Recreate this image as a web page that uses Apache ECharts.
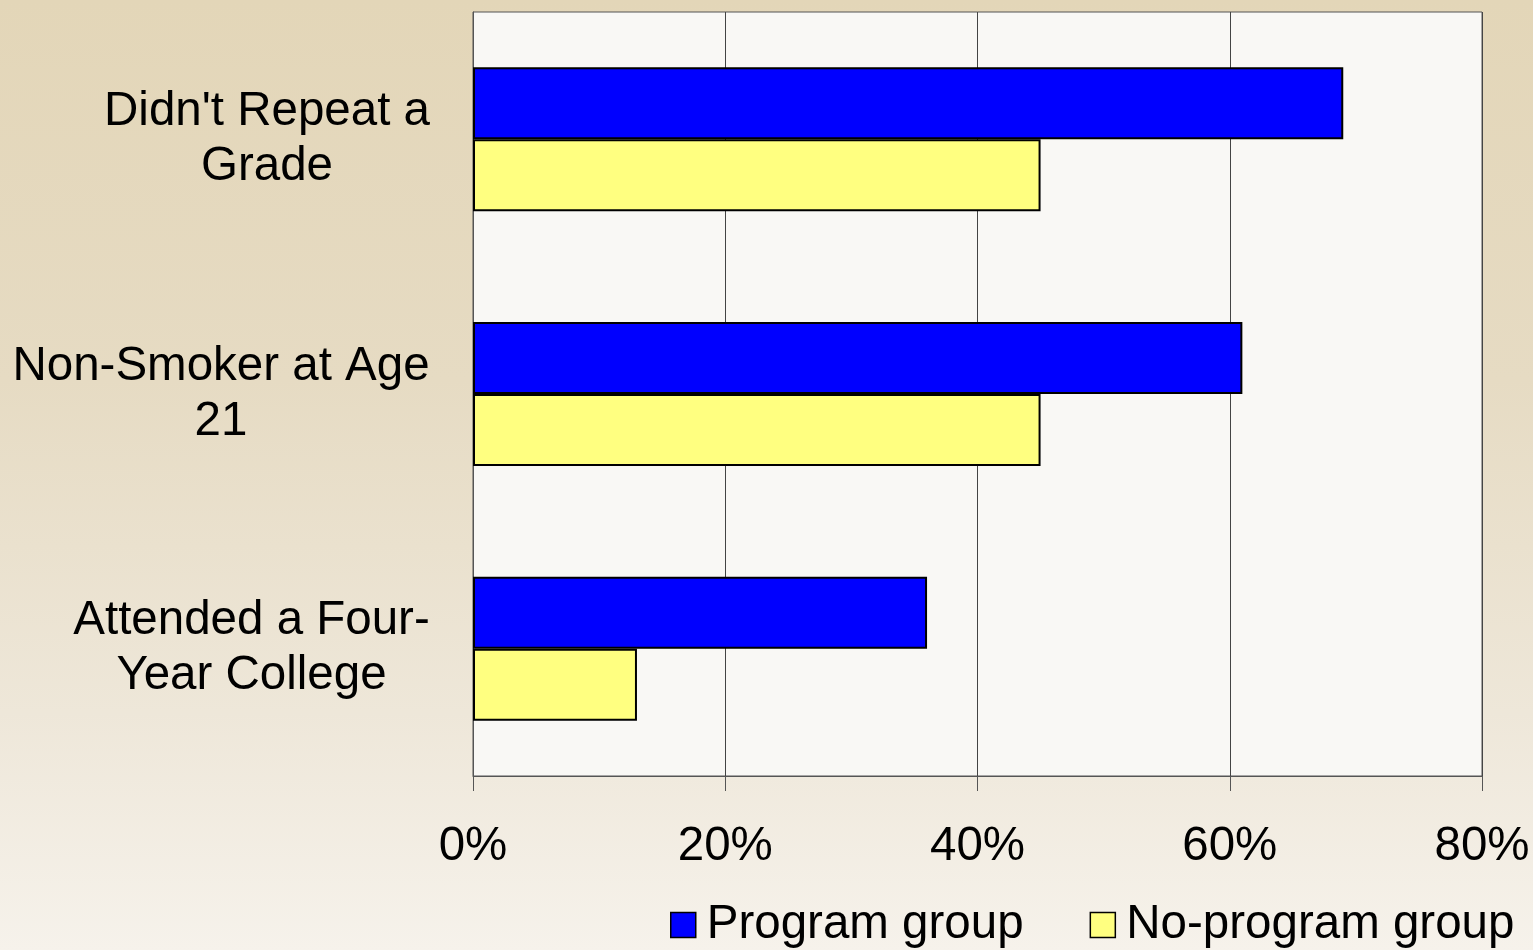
<!DOCTYPE html>
<html>
<head>
<meta charset="utf-8">
<script src="https://cdn.jsdelivr.net/npm/echarts@6/dist/echarts.min.js"></script>
<style>
  html, body { margin: 0; padding: 0; }
  #chart { width: 1533px; height: 950px; }
</style>
</head>
<body>
<div id="chart"></div>
<script>
const categories = ["Didn't Repeat a\nGrade", "Non-Smoker at Age\n21", "Attended a Four-\nYear College"];
const programGroup = [69, 61, 36];
const noProgramGroup = [45, 45, 13];
const xTicks = [0, 20, 40, 60, 80];

const FONT = "'Liberation Sans', Arial, sans-serif";
const FS = 47.5;

// each label block is right aligned to the axis, lines centred inside it
const ctx = document.createElement("canvas").getContext("2d");
ctx.font = FS + "px " + FONT;
const rich = {};
categories.forEach((c, i) => {
  const w = Math.max(...c.split("\n").map(l => ctx.measureText(l).width));
  rich["c" + i] = { width: Math.ceil(w), align: "center", fontSize: FS, fontFamily: FONT, color: "#000", lineHeight: 55 };
});

const chart = echarts.init(document.getElementById("chart"));

chart.setOption({
  animation: false,
  backgroundColor: {
    type: "linear", x: 0, y: 0, x2: 0, y2: 1,
    colorStops: [
      { offset: 0, color: "#e3d6b8" },
      { offset: 0.4, color: "#e6dbc3" },
      { offset: 0.75, color: "#eee7d9" },
      { offset: 1, color: "#f6f2eb" }
    ]
  },
  textStyle: { fontFamily: FONT },
  grid: {
    left: 473, right: 51, top: 12, bottom: 174,
    show: true, backgroundColor: "#f9f8f5", borderColor: "#555", borderWidth: 1
  },
  legend: {
    data: ["Program group", "No-program group"],
    left: 670, top: 901, padding: 0,
    icon: "rect", itemWidth: 25, itemHeight: 25, itemGap: 66,
    itemStyle: { borderColor: "#000", borderWidth: 1.5 },
    textStyle: { fontSize: FS, color: "#000", fontFamily: FONT, padding: [0, 0, 0, 6] }
  },
  xAxis: {
    type: "value",
    min: xTicks[0], max: xTicks[xTicks.length - 1], interval: 20,
    axisLine: { show: true, lineStyle: { color: "#555", width: 1 } },
    axisTick: { show: true, length: 15, lineStyle: { color: "#555" } },
    axisLabel: { formatter: "{value}%", fontSize: FS, color: "#000", margin: 47, fontFamily: FONT },
    splitLine: { show: true, lineStyle: { color: "#444", width: 1 } }
  },
  yAxis: {
    type: "category",
    data: categories,
    inverse: true,
    axisLine: { show: true, lineStyle: { color: "#555", width: 1 } },
    axisTick: { show: false },
    splitLine: { show: false },
    axisLabel: {
      margin: 43,
      formatter: (v, i) => v.split("\n").map(l => "{c" + i + "|" + l + "}").join("\n"),
      rich: rich
    }
  },
  series: [
    {
      name: "Program group", type: "bar", data: programGroup,
      barWidth: 72, barGap: "0%",
      itemStyle: { color: "#0000ff", borderColor: "#000", borderWidth: 2 }
    },
    {
      name: "No-program group", type: "bar", data: noProgramGroup,
      barWidth: 72, barGap: "0%",
      itemStyle: { color: "#ffff80", borderColor: "#000", borderWidth: 2 }
    }
  ]
});
</script>
</body>
</html>
